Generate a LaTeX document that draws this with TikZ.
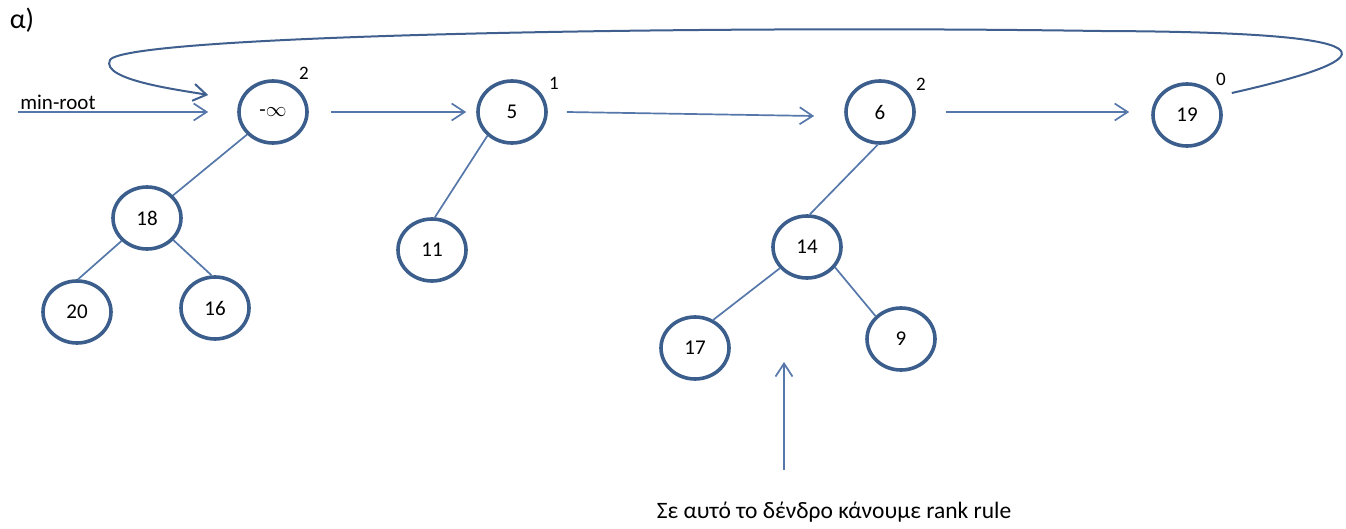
\documentclass[tikz,border=0pt]{standalone}
\usepackage{fontspec}
\setmainfont{Carlito}
\usetikzlibrary{shapes.geometric,arrows.meta}
\definecolor{ringblue}{HTML}{3B5E8C}
\definecolor{lineblue}{HTML}{5577AA}
\definecolor{loopblue}{HTML}{3F5F8F}
\tikzset{
  heapnode/.style={ellipse, draw=ringblue, line width=3.6pt, minimum width=68pt,
    minimum height=62pt, inner sep=0pt, font=\fontsize{21}{24}\selectfont},
  ranklbl/.style={font=\fontsize{19}{22}\selectfont},
  treeedge/.style={draw=lineblue, line width=1.7pt},
  listarrow/.style={draw=lineblue, line width=1.7pt, ->}
}
\begin{document}
\begin{tikzpicture}[x=1pt, y=-1pt, >={Straight Barb[length=13pt, width=17pt]}]
            \useasboundingbox (0,0) rectangle (1346,529);
            % roots
            \node[heapnode] (minf) at (273,112) {-$\infty$};
            \node[heapnode] (n5) at (512,112) {5};
            \node[heapnode] (n6) at (880,112) {6};
            \node[heapnode] (n19) at (1187,115) {19};
            % children
            \node[heapnode] (n18) at (147,218) {18};
            \node[heapnode] (n20) at (77,312) {20};
            \node[heapnode] (n16) at (215,308) {16};
            \node[heapnode] (n11) at (432,250) {11};
            \node[heapnode] (n14) at (807,247) {14};
            \node[heapnode] (n17) at (695,348) {17};
            \node[heapnode] (n9) at (901,339) {9};
            % ranks
            \node[ranklbl] (rminf) at (304,73) {2};
            \node[ranklbl] (rn5) at (554,83) {1};
            \node[ranklbl] (rn6) at (921,84) {2};
            \node[ranklbl] (rn19) at (1221,79) {0};
            % texts
            \node[font=\fontsize{28}{32}\selectfont] (title) at (22,20) {α)};
            \node[font=\fontsize{21}{24}\selectfont] (minlbl) at (58,102) {min-root};
            \node[font=\fontsize{23.5}{28}\selectfont] (note) at (834,512) {Σε αυτό το δένδρο κάνουμε rank rule};
            \coordinate (minstart) at (18,112);
            \coordinate (notetail) at (784,470);
            \coordinate (notehead) at (784,362);
            % tree edges
            \foreach \a/\b in {minf.221/n18.41, n18.222/n20.88, n18.-40/n16.96, n5.224/n11.85,
                n6.-94/n14.85, n14.218/n17.57, n14.-36/n9.138}
                \draw[treeedge] (\a) -- (\b);
            % root list
            \draw[listarrow] (minstart) -- ([xshift=-29pt]minf.west);
            \draw[listarrow] ([xshift=22pt]minf.east) -- ([xshift=-10pt]n5.west);
            \draw[listarrow] ([xshift=19pt]n5.east) -- ([xshift=-30pt,yshift=-4pt]n6.west);
            \draw[listarrow] ([xshift=30pt]n6.east) -- ([xshift=-22pt,yshift=3pt]n19.west);
            \draw[loopblue, line width=2pt, ->]
                ([xshift=9pt,yshift=22pt]n19.east) .. controls (1400,55) and (1390,32) .. (1100,31)
                .. controls (700,25) and (125,35) .. (110,60)
                .. controls (100,80) and (180,90) .. ([xshift=-29pt,yshift=17pt]minf.west);
            \draw[listarrow] (notetail) -- (notehead);
\end{tikzpicture}
\end{document}
